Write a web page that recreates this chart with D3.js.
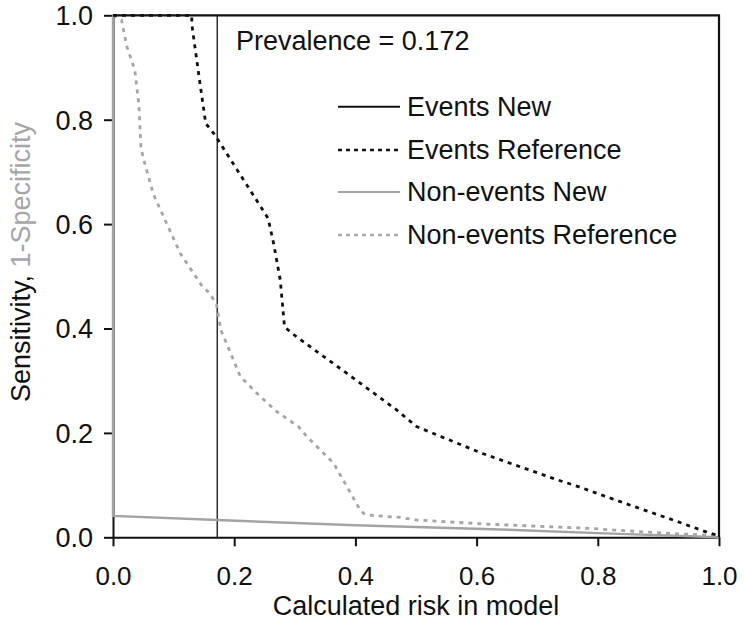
<!DOCTYPE html>
<html><head><meta charset="utf-8">
<script src="https://cdn.jsdelivr.net/npm/d3@7"></script>
<style>body{margin:0;background:#fff}svg{display:block}text{font-family:"Liberation Sans",Arial,sans-serif;fill:#111}</style>
</head><body>
<script>
const prevalence = 0.172;
const xTicks = [0, 0.2, 0.4, 0.6, 0.8, 1.0];
const yTicks = [0, 0.2, 0.4, 0.6, 0.8, 1.0];
const seriesNames = ["Events New", "Events Reference", "Non-events New", "Non-events Reference"];

const eventsNew = [[0,1],[1,1],[1,0]];
const eventsRef = [[0,1],[0.13,1],[0.13,0.983],[0.143,0.874],[0.153,0.793],[0.168,0.771],[0.256,0.611],[0.265,0.563],[0.276,0.493],[0.283,0.403],[0.303,0.384],[0.386,0.314],[0.468,0.244],[0.501,0.212],[0.611,0.16],[0.633,0.151],[0.731,0.111],[0.768,0.097],[0.845,0.065],[0.922,0.034],[0.982,0.009],[1,0.003]];
const nonEventsNew = [[0,1],[0,0.041],[0.172,0.033],[0.4,0.023],[0.64,0.015],[0.8,0.008],[1,0]];
const nonEventsRef = [[0,1],[0.014,0.991],[0.023,0.94],[0.036,0.895],[0.043,0.825],[0.046,0.748],[0.05,0.726],[0.067,0.656],[0.111,0.544],[0.146,0.483],[0.16,0.467],[0.171,0.445],[0.178,0.397],[0.193,0.356],[0.21,0.308],[0.24,0.273],[0.27,0.241],[0.306,0.212],[0.32,0.193],[0.364,0.142],[0.386,0.097],[0.408,0.052],[0.416,0.043],[0.474,0.038],[0.501,0.033],[0.622,0.025],[0.787,0.017],[0.908,0.008],[0.985,0.004],[1,0]];

const W = 744, H = 629;
const m = {left:113, right:25, top:15.3, bottom:91.7};
const svg = d3.select("body").append("svg").attr("width", W).attr("height", H);
const x = d3.scaleLinear().domain([0,1]).range([m.left, W - m.right]);
const y = d3.scaleLinear().domain([0,1]).range([H - m.bottom, m.top]);

const fs = 27;
// axes
const xAxis = svg.append("g").attr("transform", `translate(0,${y(0)})`)
  .call(d3.axisBottom(x).tickValues(xTicks).tickFormat(d3.format(".1f")).tickSize(9).tickSizeOuter(0));
const yAxis = svg.append("g").attr("transform", `translate(${x(0)},0)`)
  .call(d3.axisLeft(y).tickValues(yTicks).tickFormat(d3.format(".1f")).tickSize(9).tickSizeOuter(0));
[xAxis, yAxis].forEach(g => {
  g.select(".domain").attr("stroke", "#111").attr("stroke-width", 2);
  g.selectAll(".tick line").attr("stroke", "#111").attr("stroke-width", 2);
  g.selectAll(".tick text").attr("fill", "#111").style("font-family", "Liberation Sans, Arial, sans-serif");
});
xAxis.selectAll(".tick text").attr("font-size", 26).attr("dy", "0").attr("y", 48);
yAxis.selectAll(".tick text").attr("font-size", fs).attr("x", -20).attr("dy", "0.35em");

// prevalence line
svg.append("line").attr("x1", x(prevalence)).attr("x2", x(prevalence))
  .attr("y1", y(1)).attr("y2", y(0)).attr("stroke", "#111").attr("stroke-width", 1.3);

const line = d3.line().x(d => x(d[0])).y(d => y(d[1]));
const styles = [
  {data: eventsNew, color: "#111", dash: null, w: 2.2},
  {data: eventsRef, color: "#111", dash: "4,5", w: 2.8},
  {data: nonEventsNew, color: "#a3a3a3", dash: null, w: 2.4},
  {data: nonEventsRef, color: "#a6a6a6", dash: "4,5", w: 2.8}
];
[2,3,1,0].forEach(i => {
  const s = styles[i];
  svg.append("path").datum(s.data).attr("d", line).attr("fill", "none")
    .attr("stroke", s.color).attr("stroke-width", s.w)
    .attr("stroke-dasharray", s.dash);
});

// prevalence text
svg.append("text").attr("x", 236).attr("y", 50).attr("font-size", fs).text("Prevalence = " + prevalence);

// legend
const lg = svg.append("g");
const rowY = [106.7, 150, 192, 235];
seriesNames.forEach((n, i) => {
  const s = styles[i];
  lg.append("line").attr("x1", 338).attr("x2", 400).attr("y1", rowY[i]).attr("y2", rowY[i])
    .attr("stroke", s.color).attr("stroke-width", s.w - 0.2).attr("stroke-dasharray", s.dash ? "4,4" : null);
  lg.append("text").attr("x", 407).attr("y", rowY[i]).attr("dy", "0.35em").attr("font-size", fs).text(n);
});

// axis titles
svg.append("text").attr("x", x(0.5)).attr("y", 615).attr("text-anchor", "middle").attr("font-size", fs)
  .text("Calculated risk in model");
const yt = svg.append("text").attr("transform", `translate(30,262) rotate(-90)`).attr("text-anchor", "middle").attr("font-size", fs);
yt.append("tspan").attr("fill", "#111").text("Sensitivity, ");
yt.append("tspan").attr("fill", "#a6a6a6").style("fill", "#a6a6a6").text("1-Specificity");
</script>
</body></html>
